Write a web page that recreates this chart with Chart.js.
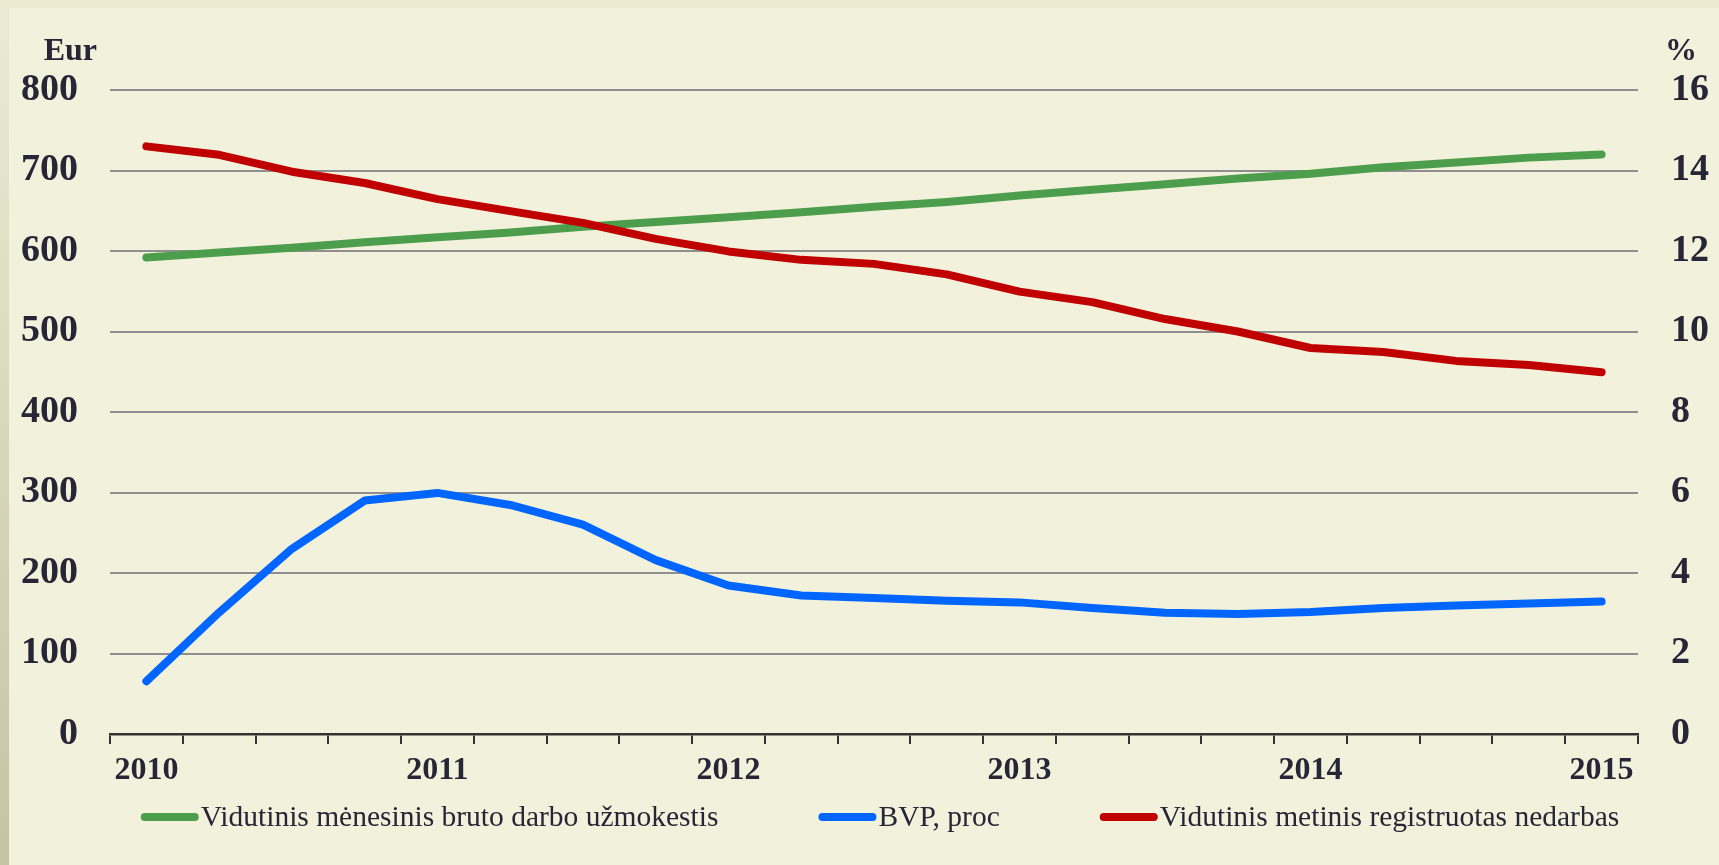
<!DOCTYPE html>
<html>
<head>
<meta charset="utf-8">
<script src="https://cdn.jsdelivr.net/npm/chart.js@4.4.0/dist/chart.umd.min.js"></script>
<style>
  html, body { margin: 0; padding: 0; background: #f2f2dc; }
  #wrap { width: 1719px; height: 865px; }
</style>
</head>
<body>
<div id="wrap"><canvas id="chart" width="1719" height="865"></canvas></div>
<script>
// Quarters 2010 - 2015, label only on the year
const labels = ['2010','','','','2011','','','','2012','','','','2013','','','','2014','','','','2015'];

// Average gross monthly wage, Eur (left axis)
const wage = [592,598,604,611,617,623,630,636,642,648,655,661,669,676,683,690,696,704,710,716,720];

// GDP, % (right axis)
const gdp = [1.31,3.02,4.6,5.8,5.99,5.69,5.2,4.32,3.69,3.44,3.38,3.31,3.27,3.13,3.01,2.98,3.03,3.13,3.19,3.24,3.29];

// Registered unemployment, % (right axis)
const unemployment = [14.6,14.39,13.97,13.69,13.29,12.99,12.7,12.3,11.99,11.78,11.68,11.42,10.99,10.73,10.31,10.0,9.59,9.49,9.27,9.17,8.99];

const seriesNames = [
    'Vidutinis mėnesinis bruto darbo užmokestis',
    'BVP, proc',
    'Vidutinis metinis registruotas nedarbas'
];

const serif = "'Liberation Serif', 'Times New Roman', serif";
const textColor = '#262636';

// page background with the thin frame strips
const bgPlugin = {
    id: 'bg',
    beforeDraw(chart) {
        const c = chart.ctx;
        c.save();
        c.fillStyle = '#f2f2dc';
        c.fillRect(0, 0, chart.width, chart.height);
        c.fillStyle = '#ebead0';
        c.fillRect(0, 0, chart.width, 8);
        const g = c.createLinearGradient(0, 0, 0, chart.height);
        g.addColorStop(0, '#ecebd2');
        g.addColorStop(1, '#c6c3a4');
        c.fillStyle = g;
        c.fillRect(0, 0, 9, chart.height);
        c.restore();
    }
};

// axis unit titles and bottom legend
const extrasPlugin = {
    id: 'extras',
    afterDraw(chart) {
        const c = chart.ctx;
        const a = chart.chartArea;
        c.save();
        c.fillStyle = textColor;
        c.font = 'bold 32px ' + serif;
        c.textBaseline = 'middle';
        c.textAlign = 'right';
        c.fillText('Eur', a.left - 13, a.top - 38);
        c.textAlign = 'left';
        c.fillText('%', a.right + 27, a.top - 38);

        // legend
        c.font = '29.5px ' + serif;
        const sw = 58, gap = 100;
        const items = chart.data.datasets.map(ds => ({
            text: ds.label, color: ds.borderColor,
            w: sw + 2 + c.measureText(ds.label).width
        }));
        const total = items.reduce((s, it) => s + it.w, 0) + gap * (items.length - 1);
        let x = 880 - total / 2;
        const y = 817;
        items.forEach(it => {
            c.strokeStyle = it.color;
            c.lineWidth = 8;
            c.lineCap = 'round';
            c.beginPath();
            c.moveTo(x + 4, y);
            c.lineTo(x + sw - 4, y);
            c.stroke();
            c.fillStyle = textColor;
            c.textAlign = 'left';
            c.fillText(it.text, x + sw + 2, y + 1);
            x += it.w + gap;
        });
        c.restore();
    }
};

const lineStyle = {
    pointRadius: 0,
    pointHoverRadius: 0,
    borderWidth: 8,
    borderCapStyle: 'round',
    borderJoinStyle: 'round',
    tension: 0,
    fill: false
};

new Chart(document.getElementById('chart'), {
    type: 'line',
    data: {
        labels: labels,
        datasets: [
            { ...lineStyle, label: seriesNames[0], data: wage, borderColor: '#4c9e4d', yAxisID: 'y', order: 1 },
            { ...lineStyle, label: seriesNames[1], data: gdp, borderColor: '#0066ff', yAxisID: 'y1', order: 2 },
            { ...lineStyle, label: seriesNames[2], data: unemployment, borderColor: '#c00000', yAxisID: 'y1', order: 0 }
        ]
    },
    options: {
        responsive: false,
        animation: false,
        devicePixelRatio: 1,
        layout: {
            padding: { top: 90, bottom: 81, left: 0, right: 0 }
        },
        plugins: {
            legend: { display: false },
            tooltip: { enabled: false }
        },
        scales: {
            x: {
                offset: true,
                grid: {
                    offset: true,
                    drawOnChartArea: false,
                    drawTicks: true,
                    tickLength: 10,
                    color: '#333333',
                    lineWidth: 2
                },
                border: { display: true, color: '#333333', width: 2.5 },
                ticks: {
                    autoSkip: false,
                    maxRotation: 0,
                    padding: 8,
                    color: textColor,
                    font: { family: serif, size: 32, weight: 'bold' }
                },
                afterFit(scale) { scale.height = 50; }
            },
            y: {
                position: 'left',
                min: 0,
                max: 800,
                ticks: {
                    stepSize: 100,
                    padding: 32,
                    color: textColor,
                    font: { family: serif, size: 38, weight: 'bold' }
                },
                grid: { color: '#8f8f8f', lineWidth: 2, drawTicks: false },
                border: { display: false },
                afterFit(scale) { scale.width = 110; }
            },
            y1: {
                position: 'right',
                min: 0,
                max: 16,
                ticks: {
                    stepSize: 2,
                    padding: 33,
                    color: textColor,
                    font: { family: serif, size: 38, weight: 'bold' }
                },
                grid: { drawOnChartArea: false, drawTicks: false },
                border: { display: false },
                afterFit(scale) { scale.width = 81; }
            }
        }
    },
    plugins: [bgPlugin, extrasPlugin]
});
</script>
</body>
</html>
